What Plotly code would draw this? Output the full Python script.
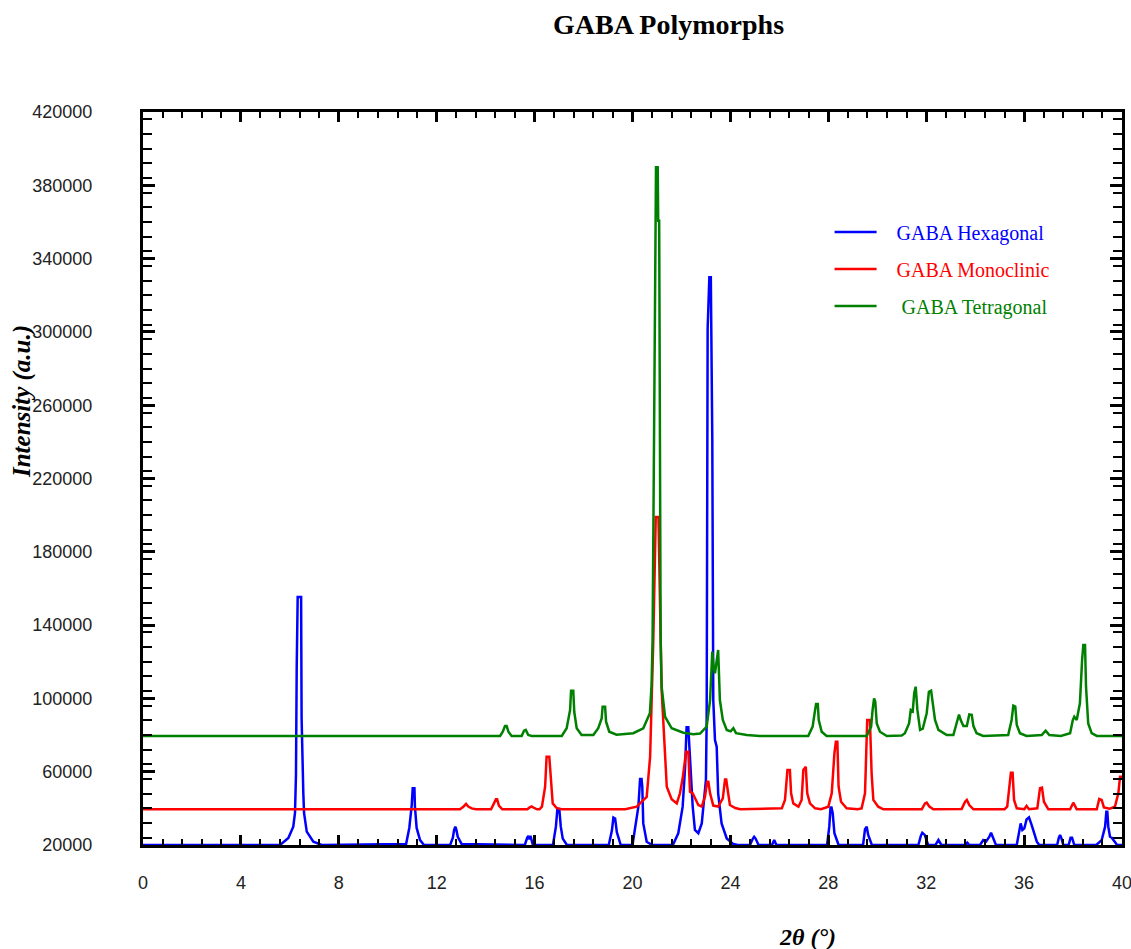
import plotly.graph_objects as go

# Powder XRD patterns of three GABA polymorphs (offset stack)
hex_2theta = [0, 5.6, 5.94, 6.14, 6.21, 6.25, 6.28, 6.32, 6.46, 6.48, 6.55, 6.58, 6.69, 6.96, 7.3,
              10.75, 10.88, 10.98, 11.02, 11.09, 11.11, 11.18, 11.32, 11.48,
              12.55, 12.66, 12.71, 12.76, 12.8, 12.86, 13.02,
              15.6, 15.7, 15.75, 15.79, 15.83, 15.93,
              16.75, 16.87, 16.93, 17.01, 17.07, 17.15, 17.32,
              19.03, 19.16, 19.22, 19.29, 19.36, 19.52,
              20.0, 20.14, 20.24, 20.31, 20.37, 20.4, 20.44, 20.58, 20.8,
              21.65, 21.87, 22.05, 22.15, 22.21, 22.28, 22.32, 22.38, 22.46, 22.55, 22.69, 22.83,
              22.92, 23.0, 23.03, 23.07, 23.14, 23.2, 23.26, 23.3, 23.37, 23.44, 23.5, 23.64,
              23.85, 24.12, 24.3,
              24.8, 24.92, 24.97, 25.03, 25.15, 25.7, 25.79, 25.88,
              27.95, 28.04, 28.09, 28.13, 28.18, 28.25, 28.42,
              29.42, 29.5, 29.57, 29.63, 29.78,
              31.68, 31.78, 31.84, 31.94, 32.08, 32.38, 32.5, 32.62,
              33.6, 33.68, 33.76, 34.2, 34.33, 34.45, 34.58, 34.65, 34.72, 34.85,
              35.7, 35.8, 35.86, 35.93, 36.01, 36.1, 36.2, 36.31, 36.4, 36.52, 36.62,
              37.35, 37.42, 37.47, 37.53, 37.6, 37.82, 37.9, 37.96, 38.05,
              38.95, 39.05, 39.17, 39.31, 39.36, 39.4, 39.44, 39.51, 39.58, 39.65, 39.8, 40]
hex_intensity = [20000, 20000, 23800, 30000, 37500, 58200, 116600, 155300, 155300, 89300, 48400, 37500, 27300, 21800, 20000,
                 20500, 29300, 41800, 51000, 51000, 41000, 29300, 22700, 20000,
                 20000, 24000, 28200, 30000, 28500, 24500, 20500,
                 20000, 24000, 25000, 23000, 25000, 20000,
                 20000, 30000, 39500, 39500, 30000, 23500, 20000,
                 20000, 28000, 35000, 34500, 27000, 20000,
                 20000, 31800, 40900, 56000, 56000, 51800, 31800, 21800, 20000,
                 20000, 26400, 40900, 62700, 84200, 84200, 74600, 59100, 40900, 28200, 26400, 31800,
                 44600, 55500, 88200, 301600, 329800, 329800, 242000, 99100, 77300, 73600, 48200, 31800,
                 23600, 20500, 20000,
                 20000, 23500, 24500, 23500, 20000, 20000, 22700, 20000,
                 20000, 30000, 40400, 40400, 37300, 26400, 20000,
                 20000, 28600, 30000, 25500, 20000,
                 20000, 25000, 26700, 25500, 20000, 20000, 22700, 20000,
                 20000, 21300, 20000, 20000, 22700, 22000, 24500, 26700, 24000, 20000,
                 20000, 26400, 31800, 28200, 29100, 34000, 35100, 30900, 26400, 21800, 20000,
                 20000, 24000, 25500, 23500, 20000, 20000, 24000, 24000, 20000,
                 20000, 21300, 22700, 30000, 38200, 38200, 30000, 24500, 24000, 22700, 20000, 20000]

mono_2theta = [0, 12.95, 13.09, 13.2, 13.29, 13.43, 13.6,
               14.22, 14.34, 14.42, 14.47, 14.54, 14.68,
               15.7, 15.8, 15.88, 15.98, 16.1,
               16.2, 16.3, 16.43, 16.49, 16.6, 16.66, 16.74, 16.9, 17.1,
               19.7, 20.17, 20.58, 20.72, 20.85, 20.95, 21.06, 21.15, 21.19, 21.4, 21.6, 21.81,
               21.94, 22.05, 22.19, 22.28, 22.35, 22.46, 22.55, 22.69, 22.83, 22.96, 23.05, 23.1,
               23.17, 23.3, 23.5, 23.69, 23.78, 23.83, 23.87, 23.98, 24.2, 24.4,
               26.1, 26.23, 26.33, 26.43, 26.48, 26.57, 26.78, 26.91, 26.98, 27.08, 27.14, 27.25,
               27.46, 27.7, 28.0, 28.14, 28.25, 28.31, 28.37, 28.42, 28.52, 28.75,
               29.2, 29.36, 29.5, 29.59, 29.7, 29.77, 29.84, 30.04, 30.25,
               31.82, 31.95, 32.02, 32.13, 32.29,
               33.45, 33.59, 33.66, 33.76, 33.93,
               35.2, 35.31, 35.42, 35.46, 35.53, 35.59, 35.7,
               36.01, 36.1, 36.2, 36.54, 36.65, 36.73, 36.81, 36.99,
               37.88, 38.01, 38.15, 38.97, 39.07, 39.17, 39.26, 39.5, 39.71, 39.85, 39.92, 40]
mono_intensity = [39500, 39500, 40900, 42400, 41000, 40000, 39500,
                  39500, 42700, 45000, 45000, 41500, 39500,
                  39500, 40500, 41000, 40200, 39500,
                  39500, 40900, 51800, 68200, 68200, 55500, 42700, 40200, 39500,
                  39500, 40900, 46300, 68200, 131900, 199000, 199000, 131900, 104600, 51800, 45000, 42700,
                  48200, 56400, 70900, 70900, 49100, 48200, 45400, 41800, 41000, 46300, 54500, 54500,
                  48200, 41500, 41000, 45400, 55800, 55800, 51800, 41800, 40200, 39500,
                  40000, 44600, 60900, 60900, 48200, 42700, 40900, 44600, 60900, 62700, 48200, 42700,
                  40000, 39500, 40900, 48200, 70000, 76400, 76400, 51800, 43600, 40000,
                  39500, 40000, 48200, 88200, 88200, 59100, 44600, 40900, 39500,
                  39500, 42700, 43100, 41000, 39500,
                  39700, 43600, 44600, 41800, 39500,
                  39500, 40900, 57300, 59400, 59400, 44600, 40000,
                  39500, 41300, 39500, 40000, 51000, 51300, 43600, 39500,
                  39500, 43100, 39500, 39500, 45100, 44600, 40500, 39800, 40900, 48200, 57300, 57300]

tetra_2theta = [0, 14.59, 14.7, 14.79, 14.86, 14.93, 15.06,
                15.47, 15.57, 15.64, 15.74, 15.88,
                17.11, 17.31, 17.45, 17.49, 17.58, 17.62, 17.72, 17.92,
                18.4, 18.6, 18.74, 18.78, 18.88, 18.92, 19.05, 19.35,
                20.03, 20.44, 20.71, 20.78, 20.82, 20.85, 20.92, 20.96, 21.03, 21.05, 21.09, 21.12,
                21.15, 21.19, 21.33, 21.6, 22.08, 22.48, 22.76,
                23.03, 23.17, 23.26, 23.31, 23.37, 23.44, 23.5, 23.57, 23.69, 23.85, 24.01, 24.12,
                24.23, 24.67, 25.2,
                27.18, 27.36, 27.44, 27.5, 27.57, 27.61, 27.73, 27.93,
                29.57, 29.75, 29.81, 29.87, 29.92, 29.98, 30.11, 30.39,
                31.0, 31.13, 31.3, 31.37, 31.45, 31.51, 31.57, 31.64, 31.75, 31.86,
                32.02, 32.11, 32.2, 32.29, 32.36, 32.5, 32.84,
                33.11, 33.25, 33.34, 33.41, 33.52, 33.66, 33.76, 33.86, 33.93, 34.06, 34.33,
                35.35, 35.49, 35.56, 35.64, 35.7, 35.83, 36.1,
                36.72, 36.88, 37.03, 37.5,
                37.88, 37.99, 38.05, 38.15, 38.28, 38.37, 38.42, 38.49, 38.53, 38.62, 38.76, 38.97, 40]
tetra_intensity = [79500, 79500, 81800, 84900, 84900, 81800, 79500,
                   79500, 82400, 82800, 80000, 79500,
                   79500, 83700, 93700, 104200, 104200, 92700, 83700, 80000,
                   80000, 83700, 89100, 95500, 95500, 87300, 81800, 80200,
                   81000, 83700, 91900, 107300, 131900, 199200, 301000, 389800, 389800, 360700, 360700, 198400,
                   131900, 106400, 90000, 83700, 81300, 80400, 80800,
                   84600, 99100, 125500, 117300, 113700, 121000, 126400, 99100, 88200, 82800, 82000, 83700,
                   81000, 80000, 79500,
                   79500, 84600, 91900, 97000, 97000, 88200, 81800, 79500,
                   79500, 84600, 93700, 100000, 98200, 86300, 81800, 79500,
                   79800, 81000, 86300, 93700, 93000, 102800, 106400, 93700, 82800, 83500,
                   91900, 103600, 104200, 95000, 88200, 82800, 80000,
                   80000, 86300, 91200, 88200, 84900, 84900, 91200, 91000, 84900, 81000, 79500,
                   80000, 88200, 96000, 95500, 85500, 81000, 79500,
                   80000, 82400, 80000, 79500,
                   81000, 88200, 90000, 88200, 97300, 121000, 129100, 129100, 106400, 86300, 81000, 79500, 79500]

series_names = ["GABA Hexagonal", "GABA Monoclinic", "GABA Tetragonal"]
series_colors = ["#0000FF", "#FF0000", "#008000"]
legend_pad = [3, 3, 4]  # leading spaces before each legend label

x_ticks = list(range(0, 41, 4))
y_ticks = list(range(20000, 420001, 40000))

SERIF = "Liberation Serif, Times New Roman, serif"
SANS = "Liberation Sans, Arial, sans-serif"

fig = go.Figure()
for i, (xs, ys) in enumerate([(hex_2theta, hex_intensity),
                               (mono_2theta, mono_intensity),
                               (tetra_2theta, tetra_intensity)]):
    label = "\u00a0" * legend_pad[i] + series_names[i]
    fig.add_trace(go.Scatter(
        x=xs, y=ys, mode="lines",
        name=f"<span style='color:{series_colors[i]}'>{label}</span>",
        legendgroup=f"g{i}",
        line=dict(color=series_colors[i], width=2.5),
    ))

axis_common = dict(
    showline=True, linecolor="black", linewidth=3, mirror="allticks",
    ticks="inside", tickcolor="black", showgrid=False, zeroline=False,
    automargin=False, ticklabeloverflow="allow",
    tickfont=dict(family=SANS, size=18, color="#222222"),
)

fig.update_xaxes(range=[0, 40], tickvals=x_ticks, ticktext=[str(v) for v in x_ticks],
                 ticklen=10, tickwidth=2.5, ticklabelstandoff=19,
                 minor=dict(ticks="inside", dtick=0.8, ticklen=6, tickwidth=1.5, tickcolor="black"),
                 **axis_common)
fig.update_yaxes(range=[20000, 420000], tickvals=y_ticks, ticktext=[str(v) for v in y_ticks],
                 ticklen=12, tickwidth=2.5, ticklabelstandoff=44,
                 minor=dict(ticks="inside", dtick=8000, ticklen=9, tickwidth=1.5, tickcolor="black"),
                 **axis_common)

fig.update_layout(
    width=1131, height=949,
    margin=dict(l=143, r=9, t=112, b=104, autoexpand=False),
    plot_bgcolor="white", paper_bgcolor="white",
    showlegend=True,
    legend=dict(x=0.7013, y=0.863, xanchor="left", yanchor="top",
                font=dict(family=SERIF, size=20), bgcolor="rgba(0,0,0,0)",
                itemwidth=42, tracegroupgap=8),
    annotations=[
        dict(text="<b>GABA Polymorphs</b>", xref="paper", yref="paper", x=0.5363, y=1.1187,
             xanchor="center", yanchor="middle", showarrow=False,
             font=dict(family=SERIF, size=28, color="black")),
        dict(text="<b><i>Intensity (a.u.)</i></b>", xref="paper", yref="paper", x=-0.1236, y=0.6057,
             xanchor="center", yanchor="middle", textangle=-90, showarrow=False,
             font=dict(family=SERIF, size=25, color="black")),
        dict(text="<b><i>2θ (°)</i></b>", xref="paper", yref="paper", x=0.679, y=-0.1255,
             xanchor="center", yanchor="middle", showarrow=False,
             font=dict(family=SERIF, size=24, color="black")),
    ],
)

fig.write_html("out.html")
